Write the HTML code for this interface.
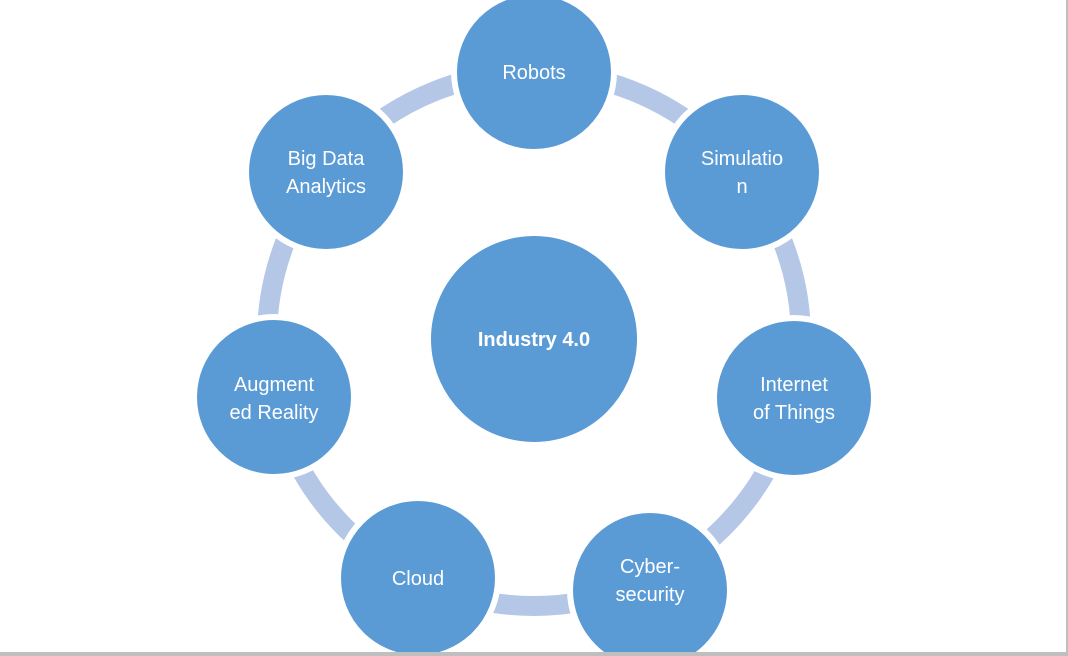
<!DOCTYPE html>
<html><head><style>
html,body{margin:0;padding:0;background:#fff;}
svg{display:block;}
text{font-family:"Liberation Sans",sans-serif;fill:#fff;font-size:20px;text-anchor:middle;}
</style></head><body>
<svg width="1068" height="656" viewBox="0 0 1068 656">
<rect x="0" y="0" width="1068" height="656" fill="#fff"/>
<circle cx="534" cy="339" r="267" fill="none" stroke="#b4c7e7" stroke-width="20"/>
<g fill="#5b9bd5" stroke="#fff" stroke-width="6">
<circle cx="534" cy="339" r="106"/>
<circle cx="534" cy="72" r="80"/>
<circle cx="742" cy="172" r="80"/>
<circle cx="794" cy="398" r="80"/>
<circle cx="650" cy="590" r="80"/>
<circle cx="418" cy="578" r="80"/>
<circle cx="274" cy="397" r="80"/>
<circle cx="326" cy="172" r="80"/>
</g>
<rect x="1066" y="0" width="2" height="656" fill="#bfbfbf"/>
<rect x="0" y="652" width="1068" height="4" fill="#bfbfbf"/>
<text x="534" y="346" font-weight="bold">Industry 4.0</text>
<text x="534" y="79">Robots</text>
<text x="742" y="165">Simulatio</text><text x="742" y="193">n</text>
<text x="794" y="391">Internet</text><text x="794" y="419">of Things</text>
<text x="650" y="573">Cyber-</text><text x="650" y="601">security</text>
<text x="418" y="585">Cloud</text>
<text x="274" y="391">Augment</text><text x="274" y="419">ed Reality</text>
<text x="326" y="165">Big Data</text><text x="326" y="193">Analytics</text>
</svg>
</body></html>
